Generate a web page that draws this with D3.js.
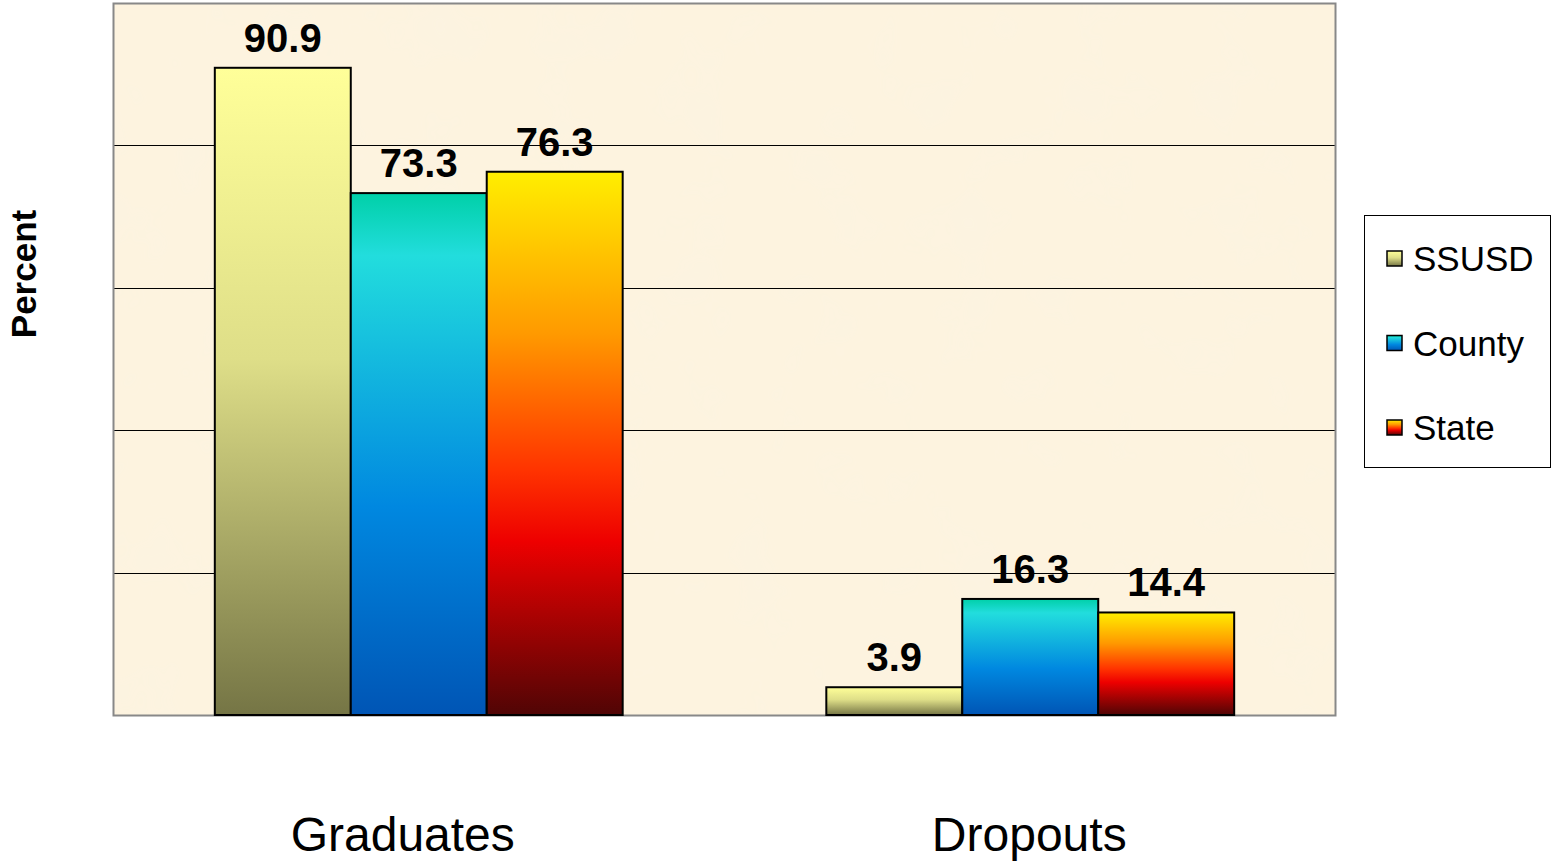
<!DOCTYPE html>
<html>
<head>
<meta charset="utf-8">
<script src="https://cdn.jsdelivr.net/npm/d3@7"></script>
<style>
  body { margin: 0; background: #fff; font-family: "Liberation Sans", Arial, sans-serif; }
</style>
</head>
<body>
<div id="chart"></div>
<script>
// data
var categories = ["Graduates", "Dropouts"];
var seriesNames = ["SSUSD", "County", "State"];
var ssusd = [90.9, 3.9];
var county = [73.3, 16.3];
var state = [76.3, 14.4];
var gridTicks = [0, 20, 40, 60, 80, 100];

var values = [ssusd, county, state];
var rows = [];
categories.forEach(function(c, i) {
  seriesNames.forEach(function(s, j) {
    rows.push({cat: c, series: s, value: values[j][i]});
  });
});

var width = 1551, height = 862;
var plot = {left: 113, top: 3, right: 1336, bottom: 715};
var catNudge = {Graduates: -16, Dropouts: -1}; // label offsets seen in the original

var svg = d3.select("#chart").append("svg").attr("width", width).attr("height", height);
var defs = svg.append("defs");

// gradients per series (bar's own box)
var grads = {
  SSUSD: [[0, "#ffff99"], [0.45, "#dede88"], [1, "#757545"]],
  County: [[0, "#00d0a8"], [0.12, "#22dddd"], [0.6, "#0088e0"], [1, "#0055b5"]],
  State: [[0, "#ffee00"], [0.3, "#ff9900"], [0.55, "#ff3300"], [0.68, "#ee0000"], [1, "#500505"]]
};
Object.keys(grads).forEach(function(k) {
  var g = defs.append("linearGradient").attr("id", "g-" + k)
    .attr("x1", 0).attr("y1", 0).attr("x2", 0).attr("y2", 1);
  grads[k].forEach(function(st) {
    g.append("stop").attr("offset", st[0]).attr("stop-color", st[1]);
  });
});

// subtle parchment texture
var filt = defs.append("filter").attr("id", "paper").attr("x", 0).attr("y", 0).attr("width", "100%").attr("height", "100%");
filt.append("feTurbulence").attr("type", "fractalNoise").attr("baseFrequency", 0.015).attr("numOctaves", 3).attr("seed", 4).attr("result", "n");
filt.append("feColorMatrix").attr("in", "n").attr("type", "matrix")
  .attr("values", "0 0 0 0 0.96  0 0 0 0 0.90  0 0 0 0 0.76  0 0 0 -1.2 0.62").attr("result", "c");
filt.append("feComposite").attr("in", "c").attr("in2", "SourceGraphic").attr("operator", "in");

var x0 = d3.scaleBand().domain(categories).range([plot.left, plot.right]).paddingInner(0.333).paddingOuter(0.1665);
var x1 = d3.scaleBand().domain(seriesNames).range([0, x0.bandwidth()]);
var y = d3.scaleLinear().domain([0, 100]).range([plot.bottom, plot.top]);

svg.append("rect").attr("x", plot.left).attr("y", plot.top)
  .attr("width", plot.right - plot.left).attr("height", plot.bottom - plot.top)
  .attr("fill", "#fdf3df");
svg.append("rect").attr("x", plot.left).attr("y", plot.top)
  .attr("width", plot.right - plot.left).attr("height", plot.bottom - plot.top)
  .attr("fill", "#fff").attr("filter", "url(#paper)");

// gridlines
svg.append("g").selectAll("line").data(gridTicks.slice(1, -1)).enter().append("line")
  .attr("x1", plot.left).attr("x2", plot.right)
  .attr("y1", function(d) { return Math.round(y(d)) + 0.5; })
  .attr("y2", function(d) { return Math.round(y(d)) + 0.5; })
  .attr("stroke", "#000").attr("stroke-width", 1);

// frame
svg.append("rect").attr("x", plot.left + 0.5).attr("y", plot.top + 0.5)
  .attr("width", plot.right - plot.left - 1).attr("height", plot.bottom - plot.top)
  .attr("fill", "none").attr("stroke", "#888").attr("stroke-width", 2);

// bars
svg.append("g").selectAll("rect").data(rows).enter().append("rect")
  .attr("x", function(d) { return x0(d.cat) + x1(d.series); })
  .attr("y", function(d) { return y(d.value); })
  .attr("width", x1.bandwidth())
  .attr("height", function(d) { return y(0) - y(d.value); })
  .attr("fill", function(d) { return "url(#g-" + d.series + ")"; })
  .attr("stroke", "#000").attr("stroke-width", 2);

// value labels
svg.append("g").selectAll("text").data(rows).enter().append("text")
  .attr("x", function(d) { return x0(d.cat) + x1(d.series) + x1.bandwidth() / 2; })
  .attr("y", function(d) { return y(d.value) - 16; })
  .attr("text-anchor", "middle")
  .attr("font-size", 40).attr("font-weight", "bold").attr("fill", "#000")
  .text(function(d) { return d.value.toFixed(1); });

// category labels
svg.append("g").selectAll("text").data(categories).enter().append("text")
  .attr("x", function(d) { return x0(d) + x0.bandwidth() / 2 + catNudge[d]; })
  .attr("y", 851)
  .attr("text-anchor", "middle").attr("font-size", 48).attr("fill", "#000")
  .text(function(d) { return d; });

// y axis title
svg.append("text").attr("transform", "translate(36,274) rotate(-90)")
  .attr("text-anchor", "middle").attr("font-size", 35).attr("font-weight", "bold")
  .text("Percent");

// legend
var lg = svg.append("g");
lg.append("rect").attr("x", 1364.5).attr("y", 215.5).attr("width", 186).attr("height", 252)
  .attr("fill", "#fff").attr("stroke", "#000").attr("stroke-width", 1);
var item = lg.selectAll("g").data(seriesNames).enter().append("g")
  .attr("transform", function(d, i) { return "translate(1387," + (259 + i * 84.5) + ")"; });
item.append("rect").attr("x", 0).attr("y", -8).attr("width", 15).attr("height", 15)
  .attr("fill", function(d) { return "url(#g-" + d + ")"; })
  .attr("stroke", "#000").attr("stroke-width", 1.5);
item.append("text").attr("x", 26).attr("y", 12).attr("font-size", 35)
  .text(function(d) { return d; });
</script>
</body>
</html>
